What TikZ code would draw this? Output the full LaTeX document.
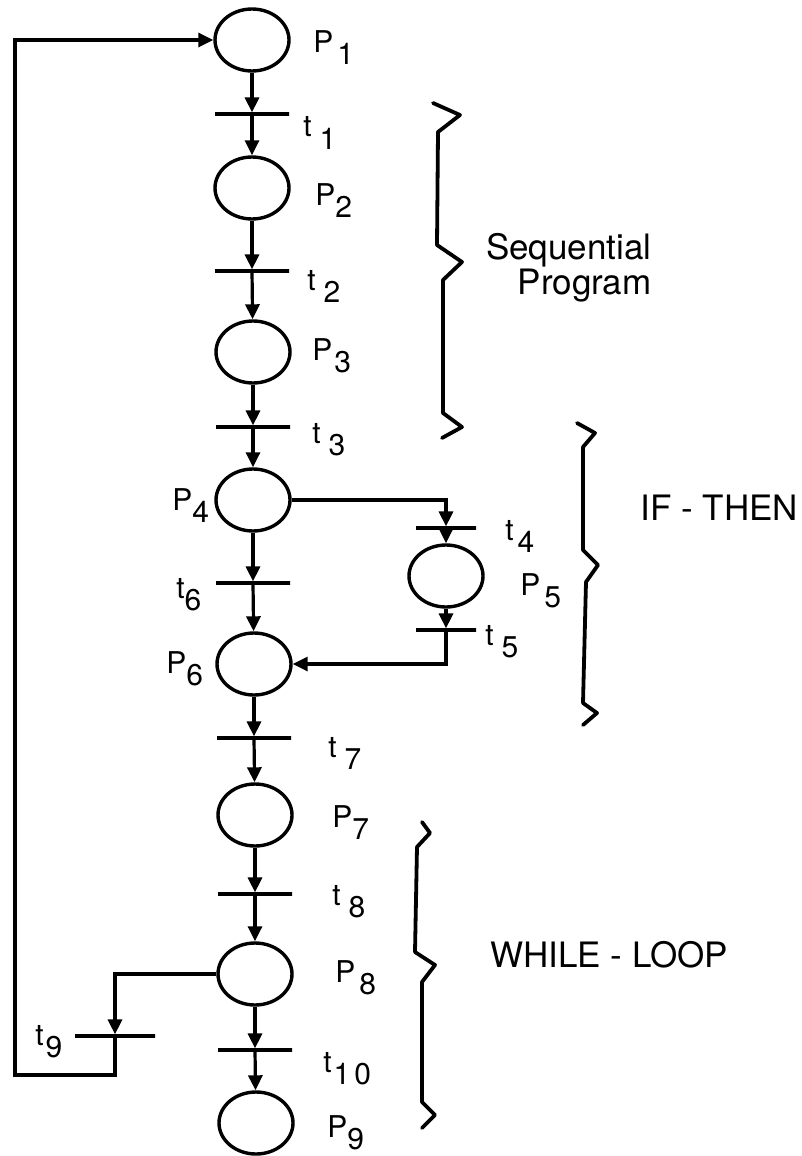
\documentclass[tikz,border=0pt]{standalone}
\usepackage{fontspec}
\setmainfont{TeX Gyre Heros}
\usetikzlibrary{arrows.meta,shapes.geometric}
\newcommand{\lw}[1]{\raisebox{-6pt}{#1}}

\begin{document}
\begin{tikzpicture}[x=0.5pt,y=-0.5pt,
    place/.style={draw,ellipse,line width=1.7pt,minimum width=37pt,minimum height=31pt,inner sep=0pt},
    bar/.style={draw,line width=1.6pt,minimum width=37pt,minimum height=0pt,inner sep=0pt},
    arc/.style={-{Triangle[length=7.5pt,width=7pt]},line width=1.6pt},
    lbl/.style={anchor=base west,inner sep=0pt,font=\fontsize{15}{17}\selectfont},
    note/.style={inner sep=0pt,font=\fontsize{17.5}{15}\selectfont},
    brace/.style={line width=1.9pt,line join=round,line cap=round}]
    \useasboundingbox (0,0) rectangle (802,1156);
    % places and transitions of the main column
    \node[place] (p1) at (252,40) {};
    \node[bar] (t1) at (252,114) {};
    \node[place] (p2) at (252,188) {};
    \node[bar] (t2) at (252,271) {};
    \node[place] (p3) at (253,352) {};
    \node[bar] (t3) at (253,427) {};
    \node[place] (p4) at (253,500) {};
    \node[bar] (t6) at (253,583) {};
    \node[place] (p6) at (254,664) {};
    \node[bar] (t7) at (254,738) {};
    \node[place] (p7) at (255,815) {};
    \node[bar] (t8) at (255,894) {};
    \node[place] (p8) at (255,974) {};
    \node[bar] (t10) at (255,1050) {};
    \node[place] (p9) at (256,1123) {};
    % then branch
    \node[bar,minimum width=30pt] (t4) at (446,528) {};
    \node[place] (p5) at (446,576) {};
    \node[bar,minimum width=30pt] (t5) at (446,630) {};
    % loop back
    \node[bar,minimum width=40pt] (t9) at (115,1036) {};
    \coordinate (c9) at (115,1075);
    \coordinate (cl) at (15,1075);

    \draw[arc] (p1) -- (t1);
    \draw[arc] (t1) -- (p2);
    \draw[arc] (p2) -- (t2);
    \draw[arc] (t2) -- (p3);
    \draw[arc] (p3) -- (t3);
    \draw[arc] (t3) -- (p4);
    \draw[arc] (p4) -- (t6);
    \draw[arc] (t6) -- (p6);
    \draw[arc] (p6) -- (t7);
    \draw[arc] (t7) -- (p7);
    \draw[arc] (p7) -- (t8);
    \draw[arc] (t8) -- (p8);
    \draw[arc] (p8) -- (t10);
    \draw[arc] (t10) -- (p9);
    \draw[arc] (p4.east) -| (t4);
    \draw[arc] (t4) -- (p5);
    \draw[arc] (p5) -- (t5);
    \draw[arc] (t5) |- (p6);
    \draw[arc] (p8) -| (t9);
    \draw[arc] (t9) -- (c9) -- (cl) |- (p1);

    % labels
    \node[lbl] (lp1) at (313,53) {P\kern2pt\lw{1}};
    \node[lbl] (lt1) at (303,137) {t\kern4pt\lw{1}};
    \node[lbl] (lp2) at (315,205) {P\lw{2}};
    \node[lbl] (lt2) at (307,290) {t\kern4pt\lw{2}};
    \node[lbl] (lp3) at (312,360) {P\kern1pt\lw{3}};
    \node[lbl] (lt3) at (312,443) {t\kern4pt\lw{3}};
    \node[lbl] (lp4) at (172,510) {P\lw{4}};
    \node[lbl] (lt6) at (176,598) {t\lw{6}};
    \node[lbl] (lp6) at (166,673) {P\lw{6}};
    \node[lbl] (lt4) at (505,540) {t\kern2pt\lw{4}};
    \node[lbl] (lp5) at (520,595) {P\kern2pt\lw{5}};
    \node[lbl] (lt5) at (485,645) {t\kern4pt\lw{5}};
    \node[lbl] (lt7) at (328,757) {t\kern4pt\lw{7}};
    \node[lbl] (lp7) at (332,827) {P\lw{7}};
    \node[lbl] (lt8) at (332,905) {t\kern4pt\lw{8}};
    \node[lbl] (lp8) at (335,982) {P\kern2pt\lw{8}};
    \node[lbl] (lt9) at (35,1045) {t\kern1pt\lw{9}};
    \node[lbl] (lt10) at (323,1072) {t\kern1pt\lw{1\kern2pt0}};
    \node[lbl] (lp9) at (327,1137) {P\lw{9}};

    % braces
    \draw[brace] (433,103) -- (460,115) -- (438,132) -- (437,245) -- (462,262) -- (443,280)
        -- (443,413) -- (462,427) -- (442,438);
    \draw[brace] (577,423) -- (595,433) -- (583,447) -- (583,550) -- (598,565) -- (586,582)
        -- (583,703) -- (597,713) -- (583,725);
    \draw[brace] (422,822) -- (430,833) -- (417,847) -- (415,952) -- (435,965) -- (422,982)
        -- (422,1102) -- (435,1115) -- (422,1128);
    \node[note,align=right,anchor=east] (seq) at (652,268) {Sequential\\Program};
    \node[note,anchor=base west] (ifthen) at (640,520) {IF - THEN};
    \node[note,anchor=base west] (while) at (490,967) {WHILE - LOOP};
  \end{tikzpicture}
\end{document}
